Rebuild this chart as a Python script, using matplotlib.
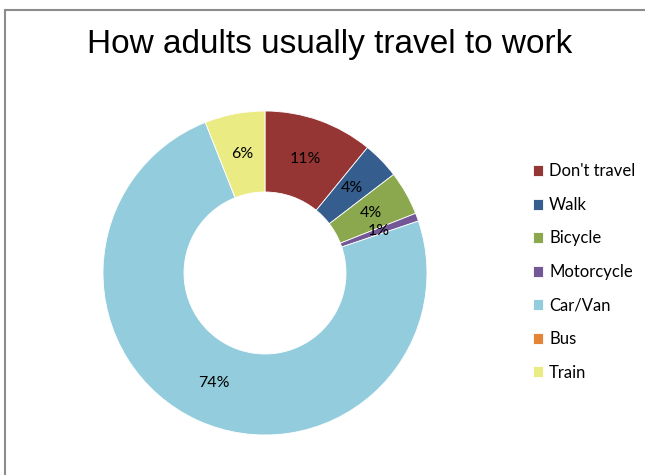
import numpy as np
import matplotlib.pyplot as plt
from matplotlib.patches import Rectangle

# data
modes = ["Don't travel", "Walk", "Bicycle", "Motorcycle", "Car/Van", "Bus", "Train"]
shares = [10.9, 3.7, 4.4, 0.8, 74.2, 0.0, 6.0]
pct_labels = ["11%", "4%", "4%", "1%", "74%", "", "6%"]
colors = ["#963634", "#355E8F", "#8BA84E", "#735796", "#93CDDD", "#E48436", "#EBEB84"]

fig = plt.figure(figsize=(6.45, 4.75), dpi=100)

# grey chart-area border (right and bottom run off the picture)
fig.patches.append(Rectangle((5 / 645, -0.1), 1.2, 1 - 10 / 475 + 0.1,
                             transform=fig.transFigure, fill=False,
                             edgecolor="#8c8c8c", linewidth=1.5))

fig.text(330 / 645, 1 - 44 / 475, "How adults usually travel to work",
         ha="center", va="center", fontsize=24, family="Liberation Sans")

ax = fig.add_axes([103 / 645, 40 / 475, 324 / 645, 324 / 475])
wedges, _ = ax.pie(shares, colors=colors, startangle=90, counterclock=False,
                   radius=1, wedgeprops=dict(width=0.5, edgecolor="white", linewidth=0.6))
ax.set_xlim(-1, 1)
ax.set_ylim(-1, 1)
ax.axis("off")

for w, lab in zip(wedges, pct_labels):
    mid = np.deg2rad((w.theta1 + w.theta2) / 2)
    if lab:
        ax.text(0.75 * np.cos(mid), 0.75 * np.sin(mid), lab, ha="center", va="center",
                fontsize=11.5, family="Lato")

fig.legend(wedges, modes, loc="center left", bbox_to_anchor=(518 / 645, 1 - 272 / 475),
           frameon=False, prop={"family": "Lato", "size": 12},
           handlelength=0.62, handleheight=0.62, handletextpad=0.35, labelspacing=1.05)

fig.savefig("out.png", dpi=100)
